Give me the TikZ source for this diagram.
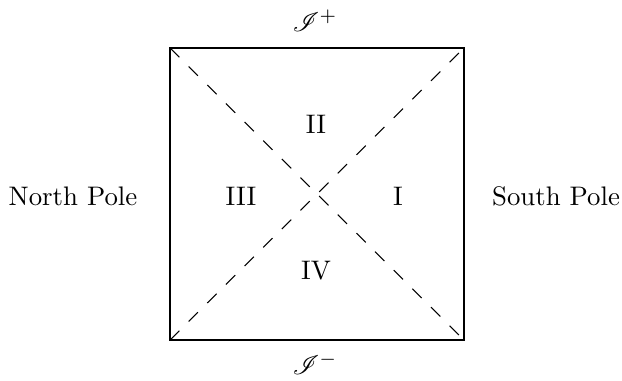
\documentclass[tikz,border=0pt]{standalone}
\usepackage{mathrsfs}
\begin{document}
\begin{tikzpicture}[x=0.373pt,y=-0.373pt,
  lbl/.style={inner sep=0pt},
  edge/.style={line width=0.6pt},
  diag/.style={dash pattern=on 4.9pt off 4.9pt}]
\useasboundingbox (0,0) rectangle (622,381);
\coordinate (sw) at (170,340);
\coordinate (se) at (464,340);
\coordinate (nw) at (170,48);
\coordinate (ne) at (464,48);
\draw[edge] (sw) -- (se) -- (ne) -- (nw) -- cycle;
\draw[diag] (nw) -- (se);
\draw[diag] (sw) -- (ne);
\node[lbl] (scriplus) at (315,21) {$\mathscr{I}^+$};
\node[lbl] (scriminus) at (315,364) {$\mathscr{I}^-$};
\node[lbl] (north) at (73,196) {North Pole};
\node[lbl] (south) at (556,196) {South Pole};
\node[lbl] (r2) at (316,124) {II};
\node[lbl] (r3) at (241,196) {III};
\node[lbl] (r1) at (398,196) {I};
\node[lbl] (r4) at (316,271) {IV};
\end{tikzpicture}
\end{document}
